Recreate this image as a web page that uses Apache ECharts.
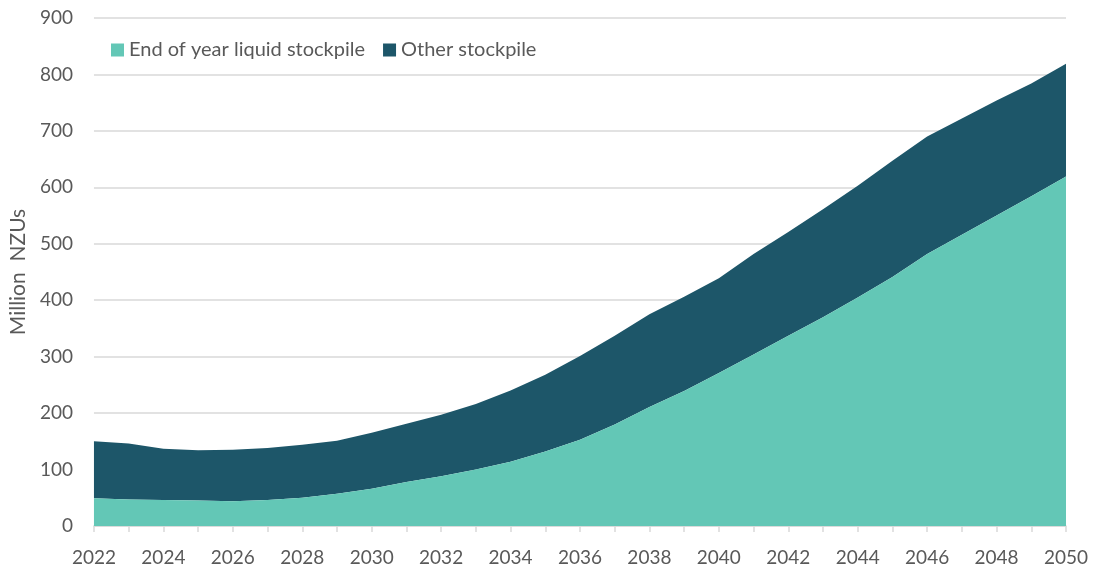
<!DOCTYPE html>
<html>
<head>
<meta charset="utf-8">
<script src="https://cdn.jsdelivr.net/npm/echarts@6/dist/echarts.min.js"></script>
<style>
  html, body { margin: 0; padding: 0; background: #fff; }
  #chart { width: 1094px; height: 567px; }
</style>
</head>
<body>
<div id="chart"></div>
<script>
// Years on the horizontal axis
const years = [
  '2022','2023','2024','2025','2026','2027','2028','2029','2030','2031',
  '2032','2033','2034','2035','2036','2037','2038','2039','2040','2041',
  '2042','2043','2044','2045','2046','2047','2048','2049','2050'
];

// End of year liquid stockpile (million NZUs)
const liquidStockpile = [
  49, 47, 46, 45, 44, 46, 50, 57, 66, 78,
  88, 100, 114, 132, 153, 180, 211, 239, 271, 304,
  337, 370, 405, 441, 482, 516, 550, 584, 619
];

// Stack total (liquid + other), million NZUs
const totalStockpile = [
  150, 146, 137, 134, 135, 138, 144, 151, 165, 181,
  197, 216, 240, 268, 301, 337, 375, 406, 439, 482,
  521, 561, 603, 647, 690, 722, 754, 784, 819
];

// Other stockpile = total minus liquid
const otherStockpile = totalStockpile.map((t, i) => t - liquidStockpile[i]);

const seriesNames = ['End of year liquid stockpile', 'Other stockpile'];
const yAxisName = 'Million  NZUs';

const textColor = '#595959';
const gridColor = '#d9d9d9';
const fontFamily = 'Lato, "Open Sans", sans-serif';

const chart = echarts.init(document.getElementById('chart'), null, { renderer: 'canvas' });

chart.setOption({
  animation: false,
  backgroundColor: '#ffffff',
  grid: { left: 92, right: 28, top: 18, bottom: 40, containLabel: false },
  legend: {
    left: 106,
    top: 35,
    itemWidth: 13,
    itemHeight: 13,
    itemGap: 18,
    icon: 'rect',
    textStyle: { color: textColor, fontSize: 20, fontFamily: fontFamily },
    data: seriesNames
  },
  xAxis: {
    type: 'category',
    boundaryGap: false,
    data: years,
    axisLine: { show: true, lineStyle: { color: gridColor, width: 1.5 } },
    axisTick: { show: true, interval: 0, length: 6, lineStyle: { color: gridColor, width: 1.5 } },
    axisLabel: { interval: 1, color: textColor, fontSize: 19, fontFamily: fontFamily, margin: 22 },
    splitLine: { show: false }
  },
  yAxis: {
    type: 'value',
    min: 0,
    max: 900,
    interval: 100,
    name: yAxisName,
    nameLocation: 'middle',
    nameGap: 64,
    nameRotate: 90,
    nameTextStyle: { color: textColor, fontSize: 21, fontFamily: fontFamily },
    axisLine: { show: false },
    axisTick: { show: false },
    axisLabel: { color: textColor, fontSize: 19, fontFamily: fontFamily, margin: 21 },
    splitLine: { lineStyle: { color: gridColor, width: 1.5 } }
  },
  series: [
    {
      name: seriesNames[0],
      type: 'line',
      stack: 'stockpile',
      data: liquidStockpile,
      symbol: 'none',
      lineStyle: { width: 0 },
      itemStyle: { color: '#63c7b6' },
      areaStyle: { color: '#63c7b6', opacity: 1 },
      z: 3
    },
    {
      name: seriesNames[1],
      type: 'line',
      stack: 'stockpile',
      data: otherStockpile,
      symbol: 'none',
      lineStyle: { width: 0 },
      itemStyle: { color: '#1d5669' },
      areaStyle: { color: '#1d5669', opacity: 1 },
      z: 2
    }
  ]
});
</script>
</body>
</html>
